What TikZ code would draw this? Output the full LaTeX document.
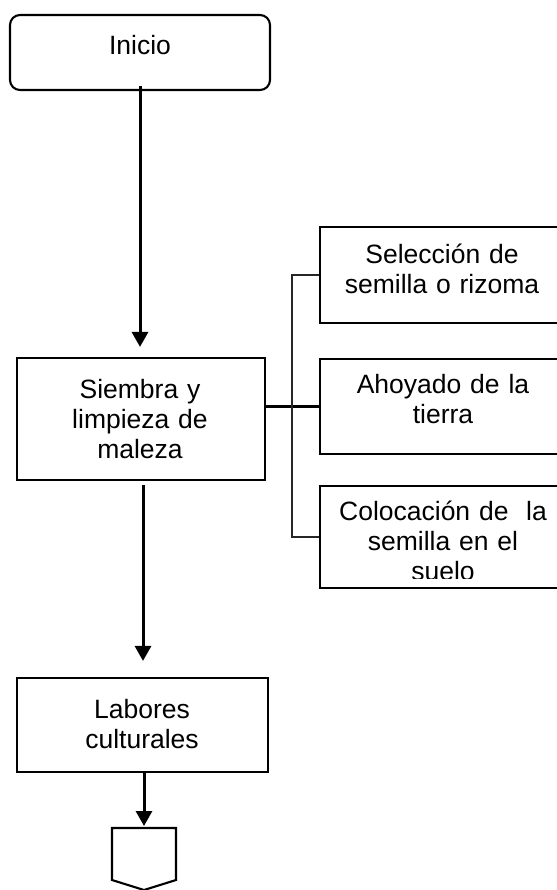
\documentclass[tikz,border=0pt]{standalone}
\usepackage{fontspec}
\setmainfont{Liberation Sans}
\usetikzlibrary{arrows.meta}
\begin{document}
\begin{tikzpicture}[x=1pt,y=-1pt,
  box/.style={draw,line width=2.1pt,inner sep=0pt,minimum width=#1},
  lbl/.style={anchor=base,text width=240pt,align=center,inner sep=0pt,
    font=\fontsize{26.5}{30}\selectfont},
  arr/.style={line width=3pt,-{Triangle[width=16pt,length=15pt]}},
  brk/.style={line width=1.3pt,draw=black!85},
  link/.style={line width=2.2pt}]
\useasboundingbox (0,0) rectangle (556,890);
% boxes
\node[box=260pt,minimum height=75pt,rounded corners=10pt] (inicio) at (140,52.5) {};
\node[box=248pt,minimum height=122pt] (siembra) at (141,419) {};
\node[box=251pt,minimum height=94pt] (labores) at (142.5,725) {};
\node[box=246pt,minimum height=96pt] (sel) at (443,275) {};
\node[box=246pt,minimum height=95pt] (aho) at (443,406.5) {};
\node[box=246pt,minimum height=102pt] (col) at (443,537) {};
% texts
\node[lbl] (inicio-t) at (140,55) {Inicio};
\node[lbl] (siembra-t) at (140,398) {Siembra y\\limpieza de\\maleza};
\node[lbl] (labores-t) at (142,718) {Labores\\culturales};
\node[lbl] (sel-t) at (442,263) {Selección de\\semilla o rizoma};
\node[lbl] (aho-t) at (443,393) {Ahoyado de la\\tierra};
\begin{scope}
  \clip (320,486) rectangle (556,578);
  \node[lbl] (col-t) at (443,520) {Colocación de\ \ la\\semilla en el\\suelo};
\end{scope}
% off-page connector
\coordinate (off) at (144,828);
\draw[line width=2.1pt] (off) +(-32,0) -- +(-32,52) -- +(0,62) -- +(32,52) -- +(32,0) -- cycle;
% connectors
\draw[arr,shorten <=-5pt,shorten >=10pt] (inicio.south) -- (inicio.south |- siembra.north);
\draw[arr,shorten <=4pt,shorten >=16pt] ([xshift=2pt]siembra.south) -- ([xshift=2pt]siembra.south |- labores.north);
\draw[arr,shorten >=2pt] (off |- labores.south) -- (off);
\draw[link] (siembra.east |- aho.west) -- (aho.west);
\coordinate (bx) at (292,0);
\draw[brk] (sel.west) -| (bx |- col.west) -- (col.west);
\end{tikzpicture}
\end{document}
